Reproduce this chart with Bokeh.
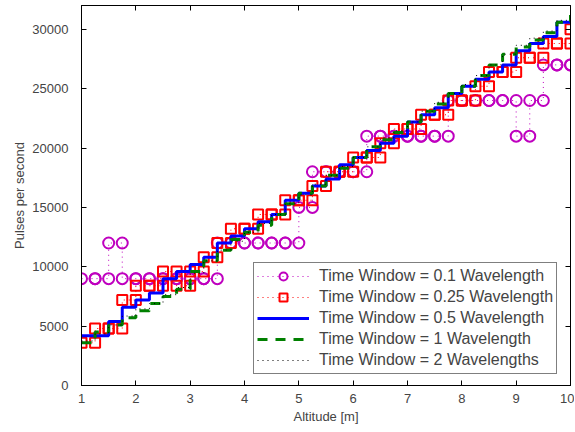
from bokeh.plotting import figure
from bokeh.models import LinearAxis, Range1d, SingleIntervalTicker, Legend, LegendItem
from bokeh.embed import file_html
from bokeh.resources import INLINE

# Altitude samples [m]
altitude = [1.0, 1.25, 1.5, 1.75, 2.0, 2.25, 2.5, 2.75, 3.0, 3.25,
            3.5, 3.75, 4.0, 4.25, 4.5, 4.75, 5.0, 5.25, 5.5, 5.75,
            6.0, 6.25, 6.5, 6.75, 7.0, 7.25, 7.5, 7.75, 8.0, 8.25,
            8.5, 8.75, 9.0, 9.25, 9.5, 9.75, 10.0]

# Pulses per second, per time window
tw_01 = [9000, 9000, 12000, 9000, 9000, 9000, 9000, 9000, 9000, 9000,
         12000, 12000, 12000, 12000, 12000, 12000, 15000, 18000, 18000, 18000,
         18000, 21000, 21000, 21000, 21000, 21000, 21000, 24000, 24000, 24000,
         24000, 24000, 21000, 24000, 27000, 27000, 27000]
tw_025 = [3600, 4800, 4800, 7200, 8400, 8400, 9600, 8400, 9600, 10800,
          12000, 13200, 13200, 14400, 14400, 15600, 15600, 16800, 18000, 18000,
          19200, 19200, 20400, 21600, 21600, 22800, 22800, 24000, 24000, 25200,
          26400, 26400, 27600, 27600, 28800, 28800, 30000]
tw_05 = [4200, 4200, 5400, 6600, 7200, 7800, 9000, 9600, 10200, 10800,
         12000, 12600, 13200, 13800, 14400, 15600, 16200, 16800, 17400, 18600,
         19200, 19800, 20400, 21000, 22200, 22800, 23400, 24600, 25200, 25800,
         26400, 27000, 28200, 28800, 29400, 30600, 30600]
tw_1 = [3600, 4500, 5100, 5700, 6300, 6900, 7500, 8100, 9600, 10500,
        11400, 12300, 12900, 13500, 14400, 15300, 16200, 16800, 17700, 18300,
        19200, 20100, 20700, 21300, 22200, 23100, 23700, 24600, 25200, 26100,
        27000, 27900, 28500, 29100, 29700, 30600, 31200]
tw_2 = [3750, 4350, 5100, 5850, 6450, 6900, 7650, 8250, 9450, 10500,
        11400, 12150, 12900, 13650, 14400, 15300, 16050, 16950, 17700, 18450,
        19200, 20100, 20850, 21450, 22200, 23100, 23850, 24600, 25350, 26100,
        27000, 27900, 28650, 29250, 29850, 30750, 31200]

labels = ["Time Window = 0.1 Wavelength", "Time Window = 0.25 Wavelength",
          "Time Window = 0.5 Wavelength", "Time Window = 1 Wavelength",
          "Time Window = 2 Wavelengths"]

FONT = "Liberation Sans"


def stair_vertices(xs, ys):
    vx, vy = [xs[0]], [ys[0]]
    for i in range(1, len(xs)):
        vx += [xs[i], xs[i]]
        vy += [ys[i - 1], ys[i]]
    return vx, vy


p = figure(width=574, height=428, output_backend="svg", toolbar_location=None,
           x_range=Range1d(1, 10), y_range=Range1d(0, 32000),
           min_border_left=81, min_border_right=0, min_border_top=5,
           min_border_bottom=43)
p.xgrid.visible = False
p.ygrid.visible = False
p.outline_line_color = "black"
p.outline_line_width = 1

mx, my = stair_vertices(altitude, tw_01)
r1l = p.line(mx, my, color="#BF00BF", line_width=1, line_dash="1 4")
r1m = p.scatter(mx, my, marker="circle", size=11, line_color="#BF00BF",
                line_width=2, fill_color=None)

rx, ry = stair_vertices(altitude, tw_025)
r2l = p.line(rx, ry, color="#FF0000", line_width=1, line_dash="1 4")
r2m = p.scatter(rx, ry, marker="square", size=10, line_color="#FF0000",
                line_width=2, fill_color=None)

r3 = p.step(altitude, tw_05, mode="after", color="#0000FF", line_width=3)
r4 = p.step(altitude, tw_1, mode="after", color="#008000", line_width=3,
            line_dash="10 8")
r5 = p.step(altitude, tw_2, mode="after", color="black", line_width=1,
            line_dash="1 4")

legend = Legend(items=[
    LegendItem(label=labels[0], renderers=[r1l, r1m]),
    LegendItem(label=labels[1], renderers=[r2l, r2m]),
    LegendItem(label=labels[2], renderers=[r3]),
    LegendItem(label=labels[3], renderers=[r4]),
    LegendItem(label=labels[4], renderers=[r5]),
], location=(172, 11))
legend.border_line_color = "black"
legend.border_line_width = 1
legend.label_text_font = FONT
legend.label_text_font_size = "16px"
legend.glyph_width = 52
legend.glyph_height = 20
legend.label_height = 20
legend.spacing = 1
legend.padding = 3
legend.margin = 0
legend.label_standoff = 10
legend.background_fill_alpha = 1
p.add_layout(legend)

p.xaxis.ticker = SingleIntervalTicker(interval=1)
p.yaxis.ticker = SingleIntervalTicker(interval=5000)
p.xaxis.axis_label = "Altitude [m]"
p.yaxis.axis_label = "Pulses per second"

for ax in [p.xaxis[0], p.yaxis[0]]:
    ax.axis_label_text_font = FONT
    ax.axis_label_text_font_size = "13px"
    ax.axis_label_text_font_style = "normal"
    ax.major_label_text_font = FONT
    ax.major_label_text_font_size = "13px"
    ax.major_tick_in = 5
    ax.major_tick_out = 0
    ax.minor_tick_line_color = None
    ax.axis_line_color = "black"
    ax.major_tick_line_color = "black"
p.xaxis.major_label_standoff = 4
p.xaxis.axis_label_standoff = 3
p.yaxis.major_label_standoff = 9
p.yaxis.axis_label_standoff = 2

top = LinearAxis(ticker=SingleIntervalTicker(interval=1))
right = LinearAxis(ticker=SingleIntervalTicker(interval=5000))
for ax in [top, right]:
    ax.major_label_text_font_size = "1px"
    ax.major_label_text_color = None
    ax.major_label_standoff = 0
    ax.major_tick_in = 5
    ax.major_tick_out = 0
    ax.minor_tick_line_color = None
    ax.axis_line_color = "black"
    ax.major_tick_line_color = "black"
p.add_layout(top, "above")
p.add_layout(right, "right")

open("out.html", "w").write(file_html(p, INLINE))
